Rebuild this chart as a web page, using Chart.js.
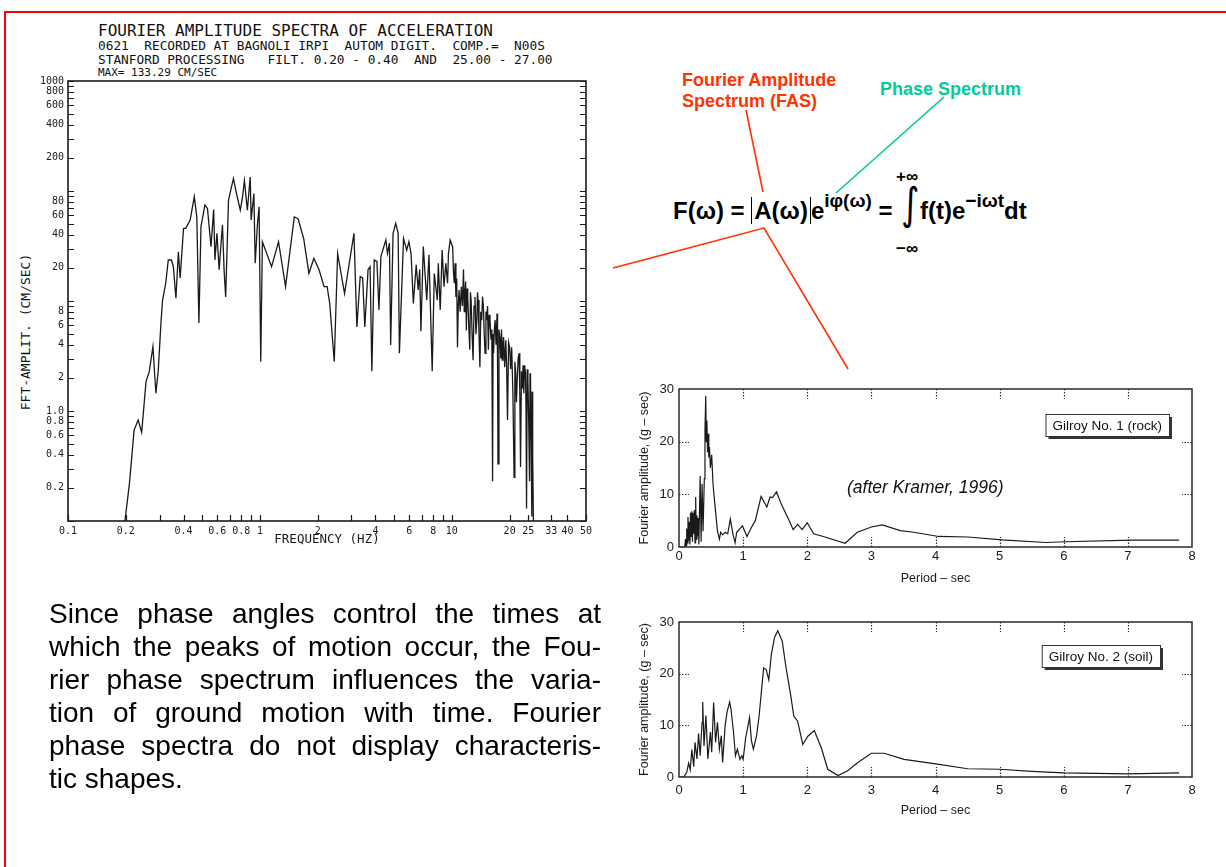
<!DOCTYPE html>
<html>
<head>
<meta charset="utf-8">
<script src="https://cdn.jsdelivr.net/npm/chart.js@4.4.1/dist/chart.umd.min.js"></script>
<style>
  body { margin: 0; width: 1226px; height: 867px; position: relative; overflow: hidden; background: #fff;
         font-family: "Liberation Sans", Arial, sans-serif; }
  .frame { position: absolute; left: 4px; top: 11px; width: 1300px; height: 900px; border: 2px solid #f00; }
  canvas { position: absolute; }
  .mono { position: absolute; font-family: "DejaVu Sans Mono", "Liberation Mono", monospace; color: #111; white-space: pre; }
  .para { position: absolute; left: 49px; top: 597px; width: 552px; font-size: 28px; line-height: 33px; color: #000; }
  .para div { text-align: justify; text-align-last: justify; }
  .para div.last { text-align: left; text-align-last: left; }
  .lbl { position: absolute; font-weight: bold; font-size: 18px; line-height: 21px; white-space: nowrap; }
  .eq { position: absolute; font-weight: bold; font-size: 24px; color: #000; white-space: nowrap; }
  .eq sup { font-size: 19px; position: relative; top: -3px; }
  .abs { border-left: 1px solid #000; border-right: 1px solid #000; padding: 0 2px; }
  .kramer { position: absolute; left: 847px; top: 477px; font-style: italic; font-size: 17.5px; color: #111; }
</style>
</head>
<body>
<div class="frame"></div>

<div class="mono" style="left:98px; top:21px; font-size:16px;">FOURIER AMPLITUDE SPECTRA OF ACCELERATION</div>
<div class="mono" style="left:98px; top:38px; font-size:12.8px;">0621  RECORDED AT BAGNOLI IRPI  AUTOM DIGIT.  COMP.=  N00S</div>
<div class="mono" style="left:98px; top:52px; font-size:12.8px;">STANFORD PROCESSING   FILT. 0.20 - 0.40  AND  25.00 - 27.00</div>
<div class="mono" style="left:98px; top:66px; font-size:11px;">MAX= 133.29 CM/SEC</div>
<div class="mono" style="left:25px; top:332px; font-size:13px; transform: translate(-50%, -50%) rotate(-90deg);">FFT-AMPLIT. (CM/SEC)</div>

<canvas id="fft" width="610" height="560" style="left:0; top:0;"></canvas>
<canvas id="rock" width="590" height="215" style="left:625px; top:375px;"></canvas>
<canvas id="soil" width="590" height="215" style="left:625px; top:608px;"></canvas>

<div class="kramer">(after Kramer, 1996)</div>

<div class="lbl" style="left:682px; top:70px; color:#ff3300;">Fourier Amplitude<br>Spectrum (FAS)</div>
<div class="lbl" style="left:880px; top:79px; color:#00cc99;">Phase Spectrum</div>

<div class="eq" style="left:673px; top:193px;">F(ω) = <span class="abs">A(ω)</span>e<sup>iφ(ω)</sup> =</div>
<div class="eq" style="left:896px; top:167px; font-size:17px;">+∞</div>
<div class="eq" style="left:896px; top:239px; font-size:17px;">−∞</div>
<div class="eq" style="left:899px; top:178px; font-family:'DejaVu Sans'; font-weight:normal; font-size:44px; transform: scaleX(0.8);">∫</div>
<div class="eq" style="left:920px; top:193px;">f(t)e<sup>−iωt</sup>dt</div>

<svg style="position:absolute; left:0; top:0;" width="1226" height="867">
  <line x1="746" y1="110" x2="763" y2="192" stroke="#ff3300" stroke-width="1.6"/>
  <line x1="944" y1="97" x2="836" y2="193" stroke="#00cc99" stroke-width="1.6"/>
  <polyline points="613,268 764,228 848,369" fill="none" stroke="#ff3300" stroke-width="1.6"/>
</svg>

<div class="para">
  <div>Since phase angles control the times at</div>
  <div>which the peaks of motion occur, the Fou-</div>
  <div>rier phase spectrum influences the varia-</div>
  <div>tion of ground motion with time. Fourier</div>
  <div>phase spectra do not display characteris-</div>
  <div class="last">tic shapes.</div>
</div>

<script>
// Bagnoli Irpi record 0621, Fourier amplitude (cm/sec) against frequency (Hz)
const fftFreq = [0.198, 0.209, 0.221, 0.232, 0.242, 0.255, 0.265, 0.277, 0.287, 0.295,
  0.305, 0.311, 0.323, 0.333, 0.346, 0.354, 0.365, 0.376, 0.384, 0.400,
  0.411, 0.433, 0.455, 0.469, 0.481, 0.493, 0.517, 0.533, 0.556, 0.574,
  0.583, 0.597, 0.613, 0.638, 0.651, 0.663, 0.686, 0.711, 0.728, 0.750,
  0.79, 0.81, 0.83, 0.86, 0.89, 0.90, 0.93, 0.945, 0.97, 0.99,
  1.01, 1.03, 1.15, 1.25, 1.36, 1.51, 1.58, 1.69, 1.80, 1.91,
  2.03, 2.16, 2.24, 2.31, 2.44, 2.54, 2.76, 3.09, 3.20, 3.33,
  3.43, 3.52, 3.66, 3.75, 3.83, 3.94, 4.07, 4.17, 4.27, 4.53,
  4.62, 4.73, 4.80, 4.94, 5.10, 5.25, 5.33, 5.60, 5.82, 5.97,
  6.13, 6.30, 6.52, 6.68, 6.80, 6.90, 7.1, 7.4, 7.6, 7.9,
  8.1, 8.4, 8.5, 8.7, 8.9, 9.1, 9.3, 9.5, 9.6, 9.8,
  10.1, 10.2, 10.3, 10.4, 10.5, 10.6, 10.7, 10.8, 10.9, 11.05,
  11.2, 11.35, 11.5, 11.6, 11.7, 11.8, 11.9, 12.0, 12.1, 12.25,
  12.4, 12.5, 12.6, 12.75, 12.9, 13.05, 13.2, 13.35, 13.5, 13.6,
  13.7, 13.85, 14.0, 14.15, 14.3, 14.45, 14.6, 14.75, 14.9, 15.05,
  15.2, 15.35, 15.5, 15.65, 15.8, 16.0, 16.15, 16.3, 16.4, 16.5,
  16.65, 16.8, 17.0, 17.2, 17.3, 17.4, 17.6, 17.8, 18.0, 18.15,
  18.3, 18.45, 18.6, 18.85, 19.1, 19.3, 19.5, 19.75, 20.0, 20.25,
  20.5, 20.8, 21.1, 21.3, 21.5, 21.7, 21.9, 22.15, 22.4, 22.6,
  22.8, 23.05, 23.3, 23.5, 23.7, 23.95, 24.2, 24.35, 24.5, 24.7,
  24.9, 25.15, 25.4, 25.55, 25.7, 25.9, 26.1, 26.2, 26.3, 26.45, 26.6];
const fftAmp = [0.1, 0.22, 0.67, 0.83, 0.64, 1.85, 2.28, 3.84, 1.45, 2.28,
  6.3, 10.2, 14.5, 23.6, 23.6, 20.5, 10.6, 28, 16.2, 45.8,
  45.8, 54.5, 88.7, 58, 6.3, 47.4, 74.6, 69.5, 31.2, 68,
  23.6, 41.2, 19.3, 49.4, 18.6, 10.9, 82.8, 109, 130, 100,
  67, 86, 124, 67, 134, 54.5, 95, 22, 49, 72,
  2.8, 34.6, 20.5, 34.6, 13.5, 58, 56, 37, 17.8, 24.5,
  19.3, 13.5, 13.5, 9.5, 2.8, 27, 11.7, 41.2, 5.8, 16.7,
  16.2, 5.8, 19.3, 20.5, 2.3, 23.6, 22.9, 8.3, 25.3, 35.9,
  27, 33.6, 3.98, 41.2, 50.7, 41.2, 3.35, 37, 29, 34.6,
  27, 9.5, 21.3, 12.6, 19.3, 5.3, 31.2, 10.2, 26.3, 2.3,
  17.8, 10.2, 22, 8.3, 29, 13.5, 22, 14.5, 27, 35.9,
  31, 18, 14.5, 22, 10.9, 16, 3.8, 9, 12.6, 8,
  13.5, 9, 19.3, 8, 11.7, 15, 5.4, 13, 10.9, 6,
  3.6, 12, 10.2, 5, 2.9, 9, 10.9, 5, 6.7, 12,
  10.2, 5, 2.5, 8, 6.7, 11, 8.9, 5, 3.35, 8,
  6.7, 9, 3.6, 7.5, 6.7, 4.5, 5.5, 0.23, 5, 3.35,
  5.5, 6.7, 4, 7.7, 3, 0.33, 5.5, 4.7, 3, 5.5,
  2.9, 4, 4.7, 2.5, 4.4, 2.5, 0.83, 4.2, 3.8, 2.4,
  3.8, 1.45, 0.25, 2.8, 2.3, 1.2, 1.9, 3.0, 3.35, 1.5,
  0.31, 2.3, 1.6, 2.6, 1.45, 2.6, 2.2, 1.0, 0.13, 2.4,
  2.0, 0.8, 0.23, 2.2, 2.0, 0.5, 0.11, 1.5, 0.95, 0.4, 0.1];

const fftXTicks = [0.1, 0.2, 0.3, 0.4, 0.5, 0.6, 0.7, 0.8, 0.9, 1, 2, 3, 4, 5, 6, 7, 8, 9, 10, 20, 25, 33, 40, 50];
const fftXLabels = ['0.1', '0.2', '', '0.4', '', '0.6', '', '0.8', '', '1', '2', '', '4', '', '6', '', '8', '', '10', '20', '25', '33', '40', '50'];
const fftYTicks = [0.1, 0.2, 0.3, 0.4, 0.5, 0.6, 0.7, 0.8, 0.9, 1, 2, 3, 4, 5, 6, 7, 8, 9,
  10, 20, 30, 40, 50, 60, 70, 80, 90, 100, 200, 300, 400, 500, 600, 700, 800, 900, 1000];
const fftYLabels = ['', '0.2', '', '0.4', '', '0.6', '', '0.8', '', '1.0', '2', '', '4', '', '6', '', '8', '',
  '', '20', '', '40', '', '60', '', '80', '', '', '200', '', '400', '', '600', '', '800', '', '1000'];

// Gilroy No. 1 (rock): Fourier amplitude (g-sec) against period (sec)
const rockPeriod = [0, 0.09, 0.10, 0.11, 0.12, 0.13, 0.14, 0.15, 0.16, 0.17, 0.18, 0.19, 0.20, 0.21, 0.22,
  0.23, 0.24, 0.25, 0.26, 0.27, 0.28, 0.29, 0.30, 0.31, 0.33, 0.345, 0.36, 0.375, 0.395, 0.405, 0.417,
  0.425, 0.435, 0.445, 0.455, 0.465, 0.475, 0.49, 0.51, 0.53, 0.56, 0.6, 0.63, 0.65, 0.68, 0.72,
  0.76, 0.8, 0.84, 0.875, 0.9, 0.95, 0.99, 1.06, 1.12, 1.19, 1.28, 1.37, 1.42, 1.46, 1.52, 1.6,
  1.66, 1.72, 1.78, 1.85, 1.92, 2.0, 2.1, 2.25, 2.59, 2.78, 3.0, 3.17, 3.45, 3.66, 4.05, 4.5,
  5.04, 5.72, 6.03, 7.05, 7.8];
const rockAmp = [0, 0, 1.5, 0.3, 3.5, 0.8, 5.7, 1.2, 4.8, 0.5, 6.5, 2.0, 6.8, 1.0, 6.5,
  2.5, 7.0, 0.8, 9.5, 1.5, 6.0, 2.0, 5.5, 0.5, 13.5, 1.0, 12, 3, 13, 22, 28.7,
  20, 24, 18, 21.5, 17, 19, 15, 17.5, 12, 8, 3, 1.5, 2.8, 2.3, 2.8,
  2.5, 5.3, 2.5, 0.8, 2.8, 3.5, 4.0, 2.0, 3.5, 5.0, 9.6, 7.6, 9.5, 9.4, 10.5, 8,
  6.5, 5, 3.3, 4.3, 3.3, 4.6, 2.5, 2.0, 0.7, 2.8, 3.8, 4.2, 3.1, 2.8, 2.0, 1.9,
  1.35, 0.85, 1.0, 1.3, 1.3];

// Gilroy No. 2 (soil)
const soilPeriod = [0, 0.073, 0.12, 0.15, 0.175, 0.2, 0.23, 0.25, 0.28, 0.305, 0.33, 0.36, 0.37, 0.39,
  0.42, 0.45, 0.49, 0.51, 0.54, 0.57, 0.6, 0.63, 0.66, 0.68, 0.72, 0.75, 0.79, 0.81, 0.85, 0.88,
  0.91, 0.95, 0.98, 1.0, 1.04, 1.1, 1.13, 1.16, 1.21, 1.25, 1.29, 1.32, 1.36, 1.4, 1.44, 1.49,
  1.54, 1.61, 1.67, 1.74, 1.79, 1.85, 1.93, 2.01, 2.11, 2.22, 2.32, 2.48, 2.63, 2.79, 3.0, 3.2,
  3.51, 4.03, 4.5, 5.0, 5.5, 6.0, 7.0, 7.8];
const soilAmp = [0, 0, 0.85, 2.7, 1.4, 5.3, 2, 6.7, 3.5, 8.4, 4.1, 10.6, 14.5, 6,
  11.9, 3.5, 8.7, 4.8, 14.4, 6.7, 10.6, 5.4, 8, 2.8, 10, 12.6, 14.5, 13.2, 8.7, 4.1,
  5.4, 3.4, 4.1, 3.4, 7.6, 11.5, 7, 5.4, 8, 11.9, 17.2, 21.1, 20.8, 18.8, 23.7, 27,
  28.3, 26.3, 21.1, 16, 11.8, 10.8, 6.3, 7.9, 9.0, 5.6, 1.5, 0.3, 1.2, 2.8, 4.6, 4.6,
  3.4, 2.5, 1.6, 1.5, 1.1, 0.8, 0.6, 0.8];

const periodMarks = [1, 2, 3, 4, 5, 6, 7];
const ampMarks = [10, 20];

Chart.defaults.font.family = '"Liberation Sans", Arial, sans-serif';
Chart.defaults.color = '#1a1a1a';

// frame round the plot area, inward tick marks and an optional label box
const frameTicks = {
  id: 'frameTicks',
  afterDatasetsDraw(chart, args, opts) {
    const { ctx, chartArea: a, scales } = chart;
    ctx.save();
    ctx.strokeStyle = opts.color;
    ctx.lineWidth = opts.frameWidth;
    ctx.strokeRect(a.left, a.top, a.right - a.left, a.bottom - a.top);

    ctx.lineWidth = opts.tickWidth;
    ctx.setLineDash(opts.dash || []);
    ctx.beginPath();
    (opts.xMarks || []).forEach(v => {
      const px = Math.round(scales.x.getPixelForValue(v)) + 0.5;
      ctx.moveTo(px, a.bottom); ctx.lineTo(px, a.bottom - opts.len);
      if (opts.top) { ctx.moveTo(px, a.top); ctx.lineTo(px, a.top + opts.len); }
    });
    (opts.yMarks || []).forEach(v => {
      const py = Math.round(scales.y.getPixelForValue(v)) + 0.5;
      ctx.moveTo(a.left, py); ctx.lineTo(a.left + opts.len, py);
      ctx.moveTo(a.right, py); ctx.lineTo(a.right - opts.len, py);
    });
    ctx.stroke();
    ctx.setLineDash([]);

    if (opts.box) {
      const text = chart.data.datasets[0].label;
      ctx.font = '13.5px "Liberation Sans", Arial, sans-serif';
      const w = ctx.measureText(text).width + 14, h = 22;
      const x = a.right - opts.box.right - w, y = a.top + opts.box.top;
      ctx.fillStyle = '#333';
      ctx.fillRect(x + 3, y + 3, w, h);
      ctx.fillStyle = '#fff';
      ctx.fillRect(x, y, w, h);
      ctx.lineWidth = 1;
      ctx.strokeStyle = '#333';
      ctx.strokeRect(x + 0.5, y + 0.5, w, h);
      ctx.fillStyle = '#111';
      ctx.textBaseline = 'middle';
      ctx.fillText(text, x + 7, y + h / 2 + 1);
    }
    ctx.restore();
  }
};

const monoTick = { family: '"DejaVu Sans Mono", "Liberation Mono", monospace', size: 10 };

new Chart(document.getElementById('fft'), {
  type: 'line',
  data: {
    datasets: [{
      label: 'FFT amplitude',
      data: fftFreq.map((f, i) => ({ x: f, y: fftAmp[i] })),
      borderColor: '#1a1a1a',
      borderWidth: 1.3,
      pointRadius: 0,
      tension: 0
    }]
  },
  options: {
    responsive: false,
    animation: false,
    layout: { padding: { left: 0, top: 81, right: 24, bottom: 0 } },
    plugins: {
      legend: { display: false },
      tooltip: { enabled: false },
      frameTicks: { color: '#1a1a1a', frameWidth: 1.6, tickWidth: 1.2, len: 6, xMarks: fftXTicks, yMarks: fftYTicks }
    },
    scales: {
      x: {
        type: 'logarithmic', min: 0.1, max: 50,
        afterBuildTicks: s => { s.ticks = fftXTicks.map(v => ({ value: v })); },
        afterFit: s => { s.height = 39; },
        grid: { display: false, drawTicks: false },
        border: { display: false },
        ticks: { autoSkip: false, maxRotation: 0, padding: 4, font: monoTick, callback: (v, i) => fftXLabels[i] },
        title: { display: true, text: 'FREQUENCY (HZ)', padding: { top: 0, bottom: 13 },
                 font: { family: '"DejaVu Sans Mono", monospace', size: 12.5 } }
      },
      y: {
        type: 'logarithmic', min: 0.1, max: 1000,
        afterBuildTicks: s => { s.ticks = fftYTicks.map(v => ({ value: v })); },
        afterFit: s => { s.width = 68; },
        grid: { display: false, drawTicks: false },
        border: { display: false },
        ticks: { autoSkip: false, padding: 4, font: monoTick, callback: (v, i) => fftYLabels[i] }
      }
    }
  },
  plugins: [frameTicks]
});

function periodChart(id, label, periods, amps, box, axisHeight, labelPad, titlePad) {
  return new Chart(document.getElementById(id), {
    type: 'line',
    data: {
      datasets: [{
        label: label,
        data: periods.map((t, i) => ({ x: t, y: amps[i] })),
        borderColor: '#1a1a1a',
        borderWidth: 1.2,
        pointRadius: 0,
        tension: 0
      }]
    },
    options: {
      responsive: false,
      animation: false,
      layout: { padding: { left: 0, top: 14, right: 23, bottom: 0 } },
      plugins: {
        legend: { display: false },
        tooltip: { enabled: false },
        frameTicks: { color: '#2a2a2a', frameWidth: 1.5, tickWidth: 1.2, len: 10, dash: [1.5, 1.5], top: true,
                      xMarks: periodMarks, yMarks: ampMarks, box: box }
      },
      scales: {
        x: {
          type: 'linear', min: 0, max: 8,
          afterFit: s => { s.height = axisHeight; },
          grid: { display: false, drawTicks: false },
          border: { display: false },
          ticks: { stepSize: 1, padding: labelPad, font: { size: 13 } },
          title: { display: true, text: 'Period – sec', padding: { top: 0, bottom: titlePad }, font: { size: 12.5 } }
        },
        y: {
          type: 'linear', min: 0, max: 30,
          afterFit: s => { s.width = 54; },
          grid: { display: false, drawTicks: false },
          border: { display: false },
          ticks: { stepSize: 10, padding: 5, font: { size: 13 } },
          title: { display: true, text: 'Fourier amplitude, (g – sec)', padding: { top: 12, bottom: 0 }, font: { size: 12.5 } }
        }
      }
    },
    plugins: [frameTicks]
  });
}

periodChart('rock', 'Gilroy No. 1 (rock)', rockPeriod, rockAmp, { right: 23, top: 25 }, 43, 2, 4);
periodChart('soil', 'Gilroy No. 2 (soil)', soilPeriod, soilAmp, { right: 32, top: 23 }, 46, 6, 5);
</script>
</body>
</html>
